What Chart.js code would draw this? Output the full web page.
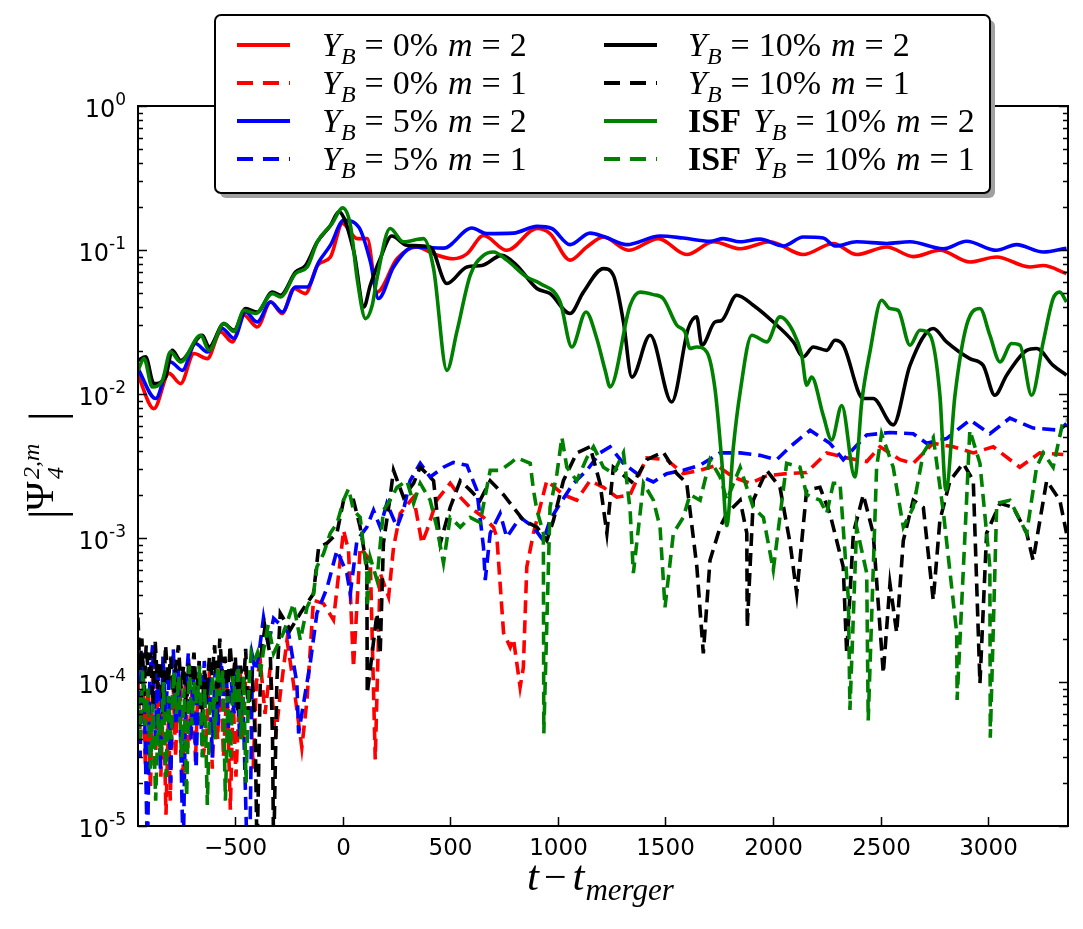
<!DOCTYPE html>
<html>
<head>
<meta charset="utf-8">
<title>Psi4 modes</title>
<script src="https://cdn.jsdelivr.net/npm/chart.js@4.4.0/dist/chart.umd.min.js"></script>
<style>
  html, body { margin: 0; padding: 0; background: #fff; }
  #wrap { position: relative; width: 1083px; height: 929px; }
</style>
</head>
<body>
<div id="wrap"><canvas id="grafico"></canvas></div>
<script>
// series labels (same order as the legend, column by column)
const seriesLabels = [
  "Y_B=0% m=2", "Y_B=0% m=1", "Y_B=5% m=2", "Y_B=5% m=1",
  "Y_B=10% m=2", "Y_B=10% m=1", "ISF Y_B=10% m=2", "ISF Y_B=10% m=1"
];

// x ticks / y decades
const xTicks = [-500, 0, 500, 1000, 1500, 2000, 2500, 3000];
const xTickLabels = ["\u2212500", "0", "500", "1000", "1500", "2000", "2500", "3000"];
const yDecades = [-5, -4, -3, -2, -1, 0];
const yTickLabels = ["-5", "-4", "-3", "-2", "-1", "0"];

// [t - t_merger, |Psi4|]
const red_m2 = [[-950,0.0135],[-876,0.0079],[-806,0.0139],[-752,0.0118],[-690,0.0191],[-628,0.0176],[-566,0.027],[-512,0.023],[-458,0.0352],[-396,0.0292],[-334,0.0435],[-280,0.0362],[-226,0.054],[-172,0.0498],[-117,0.078],[-56,0.0894],[0,0.153],[68,0.12],[115,0.12],[160,0.051],[253,0.087],[345,0.105],[423,0.094],[515,0.087],[578,0.094],[655,0.126],[763,0.0995],[903,0.141],[964,0.13],[1057,0.085],[1135,0.105],[1212,0.123],[1328,0.0995],[1467,0.12],[1599,0.093],[1723,0.114],[1847,0.102],[1986,0.114],[2140,0.093],[2280,0.111],[2388,0.093],[2528,0.105],[2651,0.09],[2775,0.0995],[2914,0.0826],[3038,0.0894],[3193,0.0762],[3255,0.078],[3363,0.0686]];

const red_m1 = [[-950,1.1e-4],[-940,4e-5],[-928,1.3e-4],[-916,2.6e-5],[-904,9e-5],[-892,1.8e-5],[-880,1.4e-4],[-868,3.2e-5],[-856,1.0e-4],[-844,2.2e-5],[-832,8e-5],[-820,1.2e-5],[-808,6e-5],[-800,1.5e-5],[-788,1.1e-4],[-775,3e-5],[-764,1.2e-4],[-754,8.7e-5],[-742,2e-5],[-730,1.1e-4],[-718,3.5e-5],[-707,4.4e-5],[-695,1.3e-4],[-683,2.8e-5],[-672,9e-5],[-661,1.15e-4],[-648,3e-5],[-630,4.6e-5],[-618,1.2e-4],[-605,2.5e-5],[-592,1.0e-4],[-580,4e-5],[-567,1.3e-4],[-553,3e-5],[-537,9.2e-5],[-521,1.3e-5],[-508,8e-5],[-495,2.2e-5],[-475,1.15e-4],[-462,4e-5],[-449,1.2e-4],[-429,7.5e-5],[-415,2.5e-5],[-400,1.0e-4],[-382,1.4e-4],[-360,6e-5],[-336,1.26e-4],[-312,4e-5],[-289,8.3e-5],[-258,1.95e-4],[-228,9.8e-5],[-189,3.5e-5],[-165,7.5e-5],[-135,3.7e-4],[-88,3.5e-4],[-42,2.7e-4],[5,1.13e-3],[28,8.2e-4],[51,1.26e-4],[82,8.6e-4],[129,7e-4],[152,2.9e-5],[175,5.7e-4],[214,3.9e-4],[237,8.6e-4],[268,1.48e-3],[330,1.92e-3],[369,9.2e-4],[392,1.13e-3],[438,1.83e-3],[500,2.4e-3],[547,1.92e-3],[593,1.63e-3],[655,1.39e-3],[701,1.19e-3],[717,1.01e-3],[748,2.2e-4],[779,1.74e-4],[794,2.0e-4],[825,9.2e-5],[840,1.26e-4],[856,6.3e-4],[887,1.08e-3],[949,2.5e-3],[1026,2.0e-3],[1088,1.83e-3],[1150,2.5e-3],[1212,2.25e-3],[1274,1.92e-3],[1336,2.0e-3],[1413,3.6e-3],[1506,3.5e-3],[1583,2.8e-3],[1661,2.95e-3],[1738,3.2e-3],[1815,2.65e-3],[1893,2.4e-3],[1970,2.7e-3],[2063,2.8e-3],[2156,2.85e-3],[2249,3.9e-3],[2342,3.6e-3],[2435,3.4e-3],[2497,4.3e-3],[2590,3.5e-3],[2651,3.3e-3],[2744,4.55e-3],[2837,4.3e-3],[2930,3.9e-3],[3023,4.3e-3],[3146,3.1e-3],[3239,3.9e-3],[3348,3.8e-3]];

const blue_m2 = [[-950,0.015],[-868,0.0093],[-799,0.0167],[-744,0.0146],[-683,0.0224],[-628,0.0196],[-559,0.0285],[-504,0.0243],[-450,0.0371],[-396,0.0316],[-334,0.0435],[-280,0.0371],[-218,0.0553],[-164,0.0553],[-110,0.0826],[-56,0.108],[6,0.161],[76,0.144],[130,0.0826],[167,0.046],[237,0.0762],[330,0.105],[469,0.103],[601,0.142],[670,0.13],[794,0.131],[903,0.146],[972,0.141],[1057,0.109],[1150,0.131],[1220,0.123],[1320,0.109],[1475,0.125],[1583,0.121],[1707,0.115],[1769,0.12],[1847,0.114],[1939,0.119],[2048,0.1066],[2140,0.123],[2233,0.121],[2288,0.1066],[2388,0.114],[2528,0.111],[2636,0.114],[2790,0.102],[2899,0.115],[3038,0.0995],[3131,0.109],[3255,0.0969],[3363,0.103]];

const blue_m1 = [[-950,1.2e-4],[-940,3e-5],[-930,1.6e-4],[-918,5e-5],[-906,6e-6],[-895,1.1e-4],[-882,1.8e-4],[-870,4e-5],[-858,1.3e-4],[-846,2.5e-5],[-834,1.5e-4],[-822,6e-5],[-810,1.2e-4],[-798,2e-5],[-786,1.7e-4],[-774,5e-5],[-762,1.3e-4],[-750,3e-5],[-740,6e-6],[-728,9e-5],[-716,1.6e-4],[-704,4e-5],[-692,1.1e-4],[-680,2.5e-5],[-668,1.2e-4],[-655,4.5e-5],[-642,1.4e-4],[-630,7e-5],[-618,1.1e-4],[-605,3e-5],[-592,1.2e-4],[-578,5e-5],[-565,1.5e-4],[-552,8e-5],[-540,1.2e-4],[-528,4e-5],[-516,1.0e-4],[-503,6e-5],[-490,1.3e-4],[-478,4e-5],[-465,1.1e-4],[-452,2e-5],[-443,6e-6],[-430,8e-6],[-418,1.5e-4],[-405,1.2e-4],[-390,1.5e-4],[-367,2.8e-4],[-345,1.8e-4],[-320,2.77e-4],[-251,2.2e-4],[-212,9.8e-5],[-204,4.4e-5],[-150,1.35e-4],[-119,3.0e-4],[-72,4.5e-4],[-26,8.2e-4],[20,5.7e-4],[36,4.1e-4],[67,9.6e-4],[113,1.19e-3],[144,1.56e-3],[175,1.19e-3],[206,1.74e-3],[253,1.19e-3],[283,1.56e-3],[314,2.5e-3],[361,3.3e-3],[407,2.65e-3],[469,3.1e-3],[515,3.35e-3],[578,3.2e-3],[624,2.15e-3],[655,8.6e-4],[663,5.1e-4],[686,1.08e-3],[732,1.48e-3],[763,1.01e-3],[825,1.39e-3],[887,1.19e-3],[933,9.6e-4],[964,1.33e-3],[1011,1.74e-3],[1073,2.4e-3],[1135,2.95e-3],[1196,3.9e-3],[1243,4.3e-3],[1305,3.3e-3],[1382,2.7e-3],[1444,2.45e-3],[1506,2.8e-3],[1583,2.95e-3],[1661,3.2e-3],[1754,3.9e-3],[1847,3.9e-3],[1939,3.75e-3],[2017,3.5e-3],[2079,4.3e-3],[2172,5.6e-3],[2264,4.55e-3],[2326,3.5e-3],[2435,5.2e-3],[2543,5.4e-3],[2651,5.3e-3],[2713,4.55e-3],[2806,4.9e-3],[2914,6.6e-3],[3007,5.3e-3],[3100,6.8e-3],[3208,5.8e-3],[3332,5.6e-3],[3363,6.25e-3]];

const black_m2 = [[-950,0.0171],[-915,0.0181],[-876,0.0118],[-822,0.0131],[-791,0.0201],[-752,0.0171],[-651,0.0256],[-620,0.0212],[-551,0.0308],[-504,0.0277],[-450,0.0392],[-396,0.0371],[-326,0.051],[-288,0.0485],[-218,0.0704],[-172,0.078],[-117,0.114],[-56,0.148],[-17,0.184],[53,0.0969],[99,0.0402],[129,0.0569],[175,0.087],[229,0.125],[299,0.108],[407,0.105],[485,0.0585],[578,0.0762],[647,0.078],[740,0.0918],[810,0.078],[903,0.054],[964,0.0498],[1057,0.0362],[1119,0.051],[1212,0.0743],[1258,0.0667],[1305,0.0316],[1344,0.0131],[1429,0.0256],[1529,0.0088],[1606,0.0285],[1645,0.0343],[1669,0.0218],[1730,0.0316],[1762,0.0325],[1831,0.0485],[1908,0.0413],[2001,0.0316],[2094,0.023],[2140,0.0181],[2187,0.0212],[2249,0.0201],[2288,0.0236],[2326,0.0218],[2419,0.0093],[2465,0.0093],[2558,0.0061],[2636,0.0158],[2744,0.0285],[2806,0.023],[2914,0.0176],[2976,0.0158],[3030,0.0098],[3085,0.0135],[3178,0.0201],[3224,0.0207],[3301,0.0158],[3363,0.0135]];

const black_m1 = [[-950,2.8e-4],[-942,1.2e-4],[-932,2.0e-4],[-922,8e-5],[-912,1.8e-4],[-902,1.1e-4],[-892,1.6e-4],[-880,7e-5],[-870,1.9e-4],[-858,9e-5],[-846,1.4e-4],[-834,6e-5],[-822,1.8e-4],[-810,1.0e-4],[-798,1.5e-4],[-786,7e-5],[-774,1.3e-4],[-762,1.8e-4],[-750,9e-5],[-738,1.3e-4],[-726,6e-5],[-714,1.4e-4],[-702,1.0e-4],[-690,1.6e-4],[-678,8e-5],[-666,1.4e-4],[-654,5e-5],[-642,1.2e-4],[-630,9e-5],[-618,1.5e-4],[-606,1.1e-4],[-594,1.8e-4],[-582,7e-5],[-570,2.0e-4],[-558,1.1e-4],[-546,1.5e-4],[-534,8e-5],[-522,1.8e-4],[-510,1.0e-4],[-498,1.5e-4],[-486,6e-5],[-474,1.3e-4],[-462,8e-5],[-450,1.7e-4],[-438,6e-5],[-420,1.2e-4],[-405,4e-5],[-397,6e-6],[-380,1.5e-4],[-360,2.4e-4],[-335,1.5e-4],[-325,4e-5],[-320,6e-6],[-305,1.0e-4],[-289,3.0e-4],[-243,2.3e-4],[-196,3.0e-4],[-135,4.1e-4],[-111,8.6e-4],[-72,9.2e-4],[-26,1.08e-3],[5,1.83e-3],[51,1.83e-3],[82,1.19e-3],[113,6.3e-4],[115,8.3e-5],[160,3.0e-4],[175,1.58e-4],[190,9.2e-4],[221,1.92e-3],[237,2.95e-3],[283,1.92e-3],[330,2.4e-3],[361,3.1e-3],[423,2.5e-3],[454,9.2e-4],[500,1.63e-3],[547,2.5e-3],[593,2.15e-3],[639,1.83e-3],[686,2.5e-3],[748,2.0e-3],[779,1.74e-3],[840,1.33e-3],[903,1.19e-3],[949,9.6e-4],[980,1.33e-3],[1026,2.5e-3],[1088,3.9e-3],[1150,4.3e-3],[1196,2.4e-3],[1228,1.08e-3],[1258,3.1e-3],[1351,2.4e-3],[1413,3.5e-3],[1490,3.95e-3],[1553,2.8e-3],[1599,2.4e-3],[1646,6.3e-4],[1676,1.58e-4],[1707,7.0e-4],[1754,1.19e-3],[1785,1.48e-3],[1847,1.83e-3],[1878,1.08e-3],[1880,2.4e-4],[1908,1.83e-3],[1970,2.95e-3],[2032,2.25e-3],[2079,9.2e-4],[2110,4.1e-4],[2156,2.15e-3],[2218,2.25e-3],[2264,1.48e-3],[2326,6.3e-4],[2342,1.58e-4],[2373,1.08e-3],[2419,2.0e-3],[2465,1.08e-3],[2512,1.15e-4],[2543,4.8e-4],[2574,2.2e-4],[2605,9.6e-4],[2651,1.83e-3],[2698,1.63e-3],[2744,3.7e-4],[2775,1.33e-3],[2822,2.5e-3],[2883,3.3e-3],[2930,2.5e-3],[2961,9.8e-5],[2992,1.08e-3],[3054,1.74e-3],[3116,1.63e-3],[3178,1.08e-3],[3208,7.0e-4],[3271,2.5e-3],[3332,1.83e-3],[3363,1.08e-3]];

const green_m2 = [[-950,0.0146],[-922,0.0176],[-884,0.0112],[-837,0.0124],[-799,0.0196],[-752,0.0167],[-659,0.0256],[-620,0.0201],[-551,0.0308],[-504,0.0272],[-458,0.0381],[-404,0.0362],[-326,0.0498],[-288,0.0472],[-218,0.0686],[-164,0.0762],[-117,0.114],[-48,0.153],[0,0.196],[37,0.148],[68,0.0633],[107,0.0334],[138,0.0413],[160,0.0633],[221,0.141],[283,0.114],[376,0.12],[423,0.0743],[485,0.0146],[531,0.027],[593,0.0667],[655,0.0918],[701,0.0969],[763,0.085],[856,0.0649],[918,0.0585],[1011,0.0435],[1065,0.0212],[1131,0.0371],[1181,0.0243],[1220,0.0146],[1243,0.0112],[1336,0.0413],[1382,0.051],[1444,0.049],[1490,0.046],[1553,0.03],[1591,0.027],[1614,0.0207],[1645,0.0212],[1692,0.0196],[1730,0.0109],[1762,0.0034],[1785,0.00122],[1815,0.0042],[1847,0.0103],[1901,0.0256],[1971,0.023],[2032,0.0343],[2094,0.027],[2133,0.0186],[2156,0.0115],[2179,0.0131],[2233,0.0071],[2272,0.0048],[2319,0.0083],[2380,0.00265],[2412,0.0088],[2450,0.0196],[2504,0.0448],[2543,0.0392],[2581,0.0381],[2636,0.0218],[2682,0.0277],[2729,0.0256],[2775,0.0098],[2803,0.00214],[2845,0.0098],[2899,0.03],[2961,0.0392],[3007,0.0256],[3054,0.0167],[3108,0.0224],[3147,0.0218],[3201,0.0098],[3255,0.023],[3301,0.046],[3332,0.051],[3363,0.0435]];

const green_m1 = [[-950,8e-5],[-940,4e-5],[-928,1.2e-4],[-916,5e-5],[-904,9e-5],[-892,2.5e-5],[-880,7e-5],[-868,1.5e-5],[-856,6e-5],[-844,3e-5],[-832,1.0e-4],[-820,2.2e-5],[-808,8e-5],[-796,4e-5],[-784,1.2e-4],[-772,6e-5],[-760,1.1e-4],[-748,3e-5],[-736,9e-5],[-724,1.6e-5],[-712,1.3e-4],[-700,5e-5],[-688,1.0e-4],[-676,7e-5],[-664,1.3e-4],[-652,3e-5],[-640,9e-5],[-628,1.4e-5],[-616,7e-5],[-604,1.1e-4],[-592,4e-5],[-580,1.3e-4],[-568,8e-5],[-556,1.2e-4],[-544,1.5e-5],[-532,8e-5],[-520,3e-5],[-508,1.1e-4],[-496,7e-5],[-484,1.3e-4],[-472,4e-5],[-460,1.1e-4],[-448,2e-5],[-436,9e-5],[-424,1.6e-4],[-410,1.4e-4],[-395,1.6e-4],[-380,1.2e-4],[-367,1.66e-4],[-345,2.5e-4],[-320,1.58e-4],[-274,2.2e-4],[-228,3.5e-4],[-196,1.95e-4],[-165,3.3e-4],[-135,4.1e-4],[-119,6.3e-4],[-88,7.8e-4],[-57,1.08e-3],[-26,1.26e-3],[5,1.83e-3],[28,2.2e-3],[51,1.56e-3],[82,1.39e-3],[98,8.6e-4],[113,5.7e-4],[115,3.3e-4],[129,7.3e-4],[160,5.1e-4],[190,1.56e-3],[221,1.83e-3],[253,2.25e-3],[299,2.5e-3],[330,1.74e-3],[361,2.4e-3],[407,1.83e-3],[438,1.19e-3],[469,6.7e-4],[500,1.39e-3],[547,1.19e-3],[593,1.39e-3],[639,1.28e-3],[686,2.95e-3],[732,2.95e-3],[779,3.3e-3],[810,3.6e-3],[872,3.3e-3],[887,2.15e-3],[903,1.56e-3],[933,1.08e-3],[935,4.4e-5],[964,1.63e-3],[996,2.8e-3],[1019,5.0e-3],[1042,3.1e-3],[1088,2.5e-3],[1135,3.6e-3],[1166,4.3e-3],[1212,3.1e-3],[1258,2.8e-3],[1305,3.9e-3],[1336,1.56e-3],[1351,5.7e-4],[1398,2.4e-3],[1444,1.83e-3],[1475,1.19e-3],[1498,3.3e-4],[1537,1.08e-3],[1583,1.39e-3],[1614,2.0e-3],[1661,1.83e-3],[1707,3.5e-3],[1754,2.65e-3],[1785,1.83e-3],[1847,3.1e-3],[1908,1.63e-3],[1955,1.39e-3],[2001,6.0e-4],[2063,3.3e-3],[2125,3.1e-3],[2156,2.0e-3],[2218,1.83e-3],[2249,1.48e-3],[2280,2.4e-3],[2311,2.4e-3],[2350,3.7e-4],[2357,6.4e-5],[2388,1.19e-3],[2435,5.7e-4],[2442,5.4e-5],[2481,3.1e-3],[2504,5.3e-3],[2558,3.1e-3],[2605,1.19e-3],[2651,1.63e-3],[2698,3.9e-3],[2744,5.0e-3],[2790,1.56e-3],[2853,2.2e-4],[2855,7.5e-5],[2899,1.83e-3],[2914,5.6e-3],[2961,3.3e-3],[3007,6.3e-4],[3009,4.1e-5],[3039,1.74e-3],[3100,1.83e-3],[3178,1.08e-3],[3224,3.1e-3],[3255,3.9e-3],[3301,3.1e-3],[3348,6.6e-3],[3363,6.6e-3]];

const seriesData = [red_m2, red_m1, blue_m2, blue_m1, black_m2, black_m1, green_m2, green_m1];
const seriesColors = ["#ff0000", "#ff0000", "#0000ff", "#0000ff", "#000000", "#000000", "#008000", "#008000"];

const MATH = '"Liberation Serif", "DejaVu Serif", serif';
const SANS = '"DejaVu Sans", sans-serif';

// writes a run of text pieces [text, font, dy, gapAfter] starting at x
function scrivi(ctx, x, y, pezzi) {
  let cx = x;
  for (const p of pezzi) {
    ctx.font = p[1];
    ctx.fillText(p[0], cx, y + p[2]);
    cx += ctx.measureText(p[0]).width + p[3];
  }
  return cx;
}

function pezziLegenda(label) {
  const m = label.match(/^(ISF )?Y_B=(\S+) m=(\d)$/);
  const out = [];
  if (m[1]) out.push(["ISF", "bold 34px " + MATH, 0, 12]);
  out.push(["Y", "italic 34px " + MATH, 0, 0]);
  out.push(["B", "italic 24px " + MATH, 8, 9]);
  out.push(["=", "34px " + MATH, 0, 9]);
  out.push([m[2], "34px " + MATH, 0, 10]);
  out.push(["m", "italic 34px " + MATH, 0, 9]);
  out.push(["=", "34px " + MATH, 0, 9]);
  out.push([m[3], "34px " + MATH, 0, 0]);
  return out;
}

const decor = {
  id: "decor",
  afterDraw(chart) {
    const ctx = chart.ctx;
    const a = chart.chartArea;
    const xs = chart.scales.x, ys = chart.scales.y;
    ctx.save();
    ctx.fillStyle = "#000";
    ctx.strokeStyle = "#000";

    // frame
    ctx.lineWidth = 2;
    ctx.setLineDash([]);
    ctx.strokeRect(a.left, a.top, a.right - a.left, a.bottom - a.top);

    // x ticks, inward on bottom and top
    ctx.lineWidth = 1.5;
    ctx.font = "23px " + SANS;
    ctx.textAlign = "center";
    ctx.textBaseline = "alphabetic";
    xTicks.forEach((t, i) => {
      const px = Math.round(xs.getPixelForValue(t)) + 0.5;
      ctx.beginPath();
      ctx.moveTo(px, a.bottom); ctx.lineTo(px, a.bottom - 9);
      ctx.moveTo(px, a.top); ctx.lineTo(px, a.top + 9);
      ctx.stroke();
      ctx.fillText(xTickLabels[i], px, a.bottom + 29);
    });

    // y ticks: majors at decades, minors 2..9
    yDecades.forEach((e, i) => {
      const py = Math.round(ys.getPixelForValue(Math.pow(10, e))) + 0.5;
      ctx.beginPath();
      ctx.moveTo(a.left, py); ctx.lineTo(a.left + 9, py);
      ctx.moveTo(a.right, py); ctx.lineTo(a.right - 9, py);
      ctx.stroke();
      if (e < 0) {
        for (let k = 2; k <= 9; k++) {
          const pm = Math.round(ys.getPixelForValue(k * Math.pow(10, e))) + 0.5;
          ctx.beginPath();
          ctx.moveTo(a.left, pm); ctx.lineTo(a.left + 5, pm);
          ctx.moveTo(a.right, pm); ctx.lineTo(a.right - 5, pm);
          ctx.stroke();
        }
      }
      // label 10^e
      ctx.textAlign = "right";
      ctx.font = "17px " + SANS;
      const wSup = ctx.measureText(yTickLabels[i]).width;
      ctx.fillText(yTickLabels[i], 126, py - 2);
      ctx.font = "24px " + SANS;
      ctx.fillText("10", 126 - wSup, py + 10);
    });

    // x axis title
    ctx.textAlign = "left";
    scrivi(ctx, 527, 890, [
      ["t", "italic 43px " + MATH, 0, 5],
      ["\u2212", "40px " + MATH, 0, 6],
      ["t", "italic 43px " + MATH, 0, 1],
      ["merger", "italic 31px " + MATH, 10, 0]
    ]);

    // y axis title, rotated
    ctx.save();
    ctx.translate(53, 465);
    ctx.rotate(-Math.PI / 2);
    ctx.textAlign = "left";
    ctx.font = "48px " + MATH;
    ctx.fillText("|", -54, 10);
    ctx.font = "40px " + MATH;
    ctx.fillText("\u03a8", -46, 0);
    ctx.font = "italic 24px " + MATH;
    ctx.fillText("4", -14, 10);
    ctx.fillText("2,m", -14, -14);
    ctx.font = "48px " + MATH;
    ctx.fillText("|", 44, 10);
    ctx.restore();

    // legend
    const L = { x: 215, y: 15, w: 775, h: 178 };
    ctx.fillStyle = "#a0a0a0";
    ctx.beginPath(); ctx.roundRect(L.x + 5, L.y + 5, L.w, L.h, 6); ctx.fill();
    ctx.fillStyle = "#fff";
    ctx.beginPath(); ctx.roundRect(L.x, L.y, L.w, L.h, 6); ctx.fill();
    ctx.lineWidth = 2;
    ctx.strokeStyle = "#000";
    ctx.stroke();

    const rowsY = [45, 83, 121, 159];
    const colLine = [237, 604];
    const colText = [322, 688];
    seriesLabels.forEach((lab, i) => {
      const c = Math.floor(i / 4), r = i % 4;
      const y = rowsY[r];
      ctx.strokeStyle = seriesColors[i];
      ctx.lineWidth = 4;
      ctx.setLineDash(i % 2 === 1 ? [16, 10] : []);
      ctx.beginPath();
      ctx.moveTo(colLine[c], y); ctx.lineTo(colLine[c] + 53, y);
      ctx.stroke();
      ctx.setLineDash([]);
      ctx.fillStyle = "#000";
      ctx.textAlign = "left";
      scrivi(ctx, colText[c], y + 11, pezziLegenda(lab));
    });

    ctx.restore();
  }
};

const datasets = seriesData.map((serie, i) => ({
  label: seriesLabels[i],
  data: serie.map(p => ({ x: p[0], y: p[1] })),
  borderColor: seriesColors[i],
  backgroundColor: seriesColors[i],
  borderWidth: 3.6,
  borderDash: i % 2 === 1 ? [13, 7] : [],
  pointRadius: 0,
  fill: false,
  tension: i % 2 === 1 ? 0 : 0.4,
  cubicInterpolationMode: i % 2 === 1 ? "default" : "monotone",
  order: seriesData.length - i
}));

new Chart(document.getElementById("grafico"), {
  type: "line",
  data: { datasets: datasets },
  options: {
    responsive: true,
    maintainAspectRatio: false,
    animation: false,
    layout: { padding: { left: 138, right: 15, top: 106, bottom: 103 } },
    plugins: { legend: { display: false }, tooltip: { enabled: false } },
    scales: {
      x: { type: "linear", min: -950, max: 3370, display: false },
      y: { type: "logarithmic", min: 1e-5, max: 1, display: false }
    }
  },
  plugins: [decor]
});
</script>
</body>
</html>
